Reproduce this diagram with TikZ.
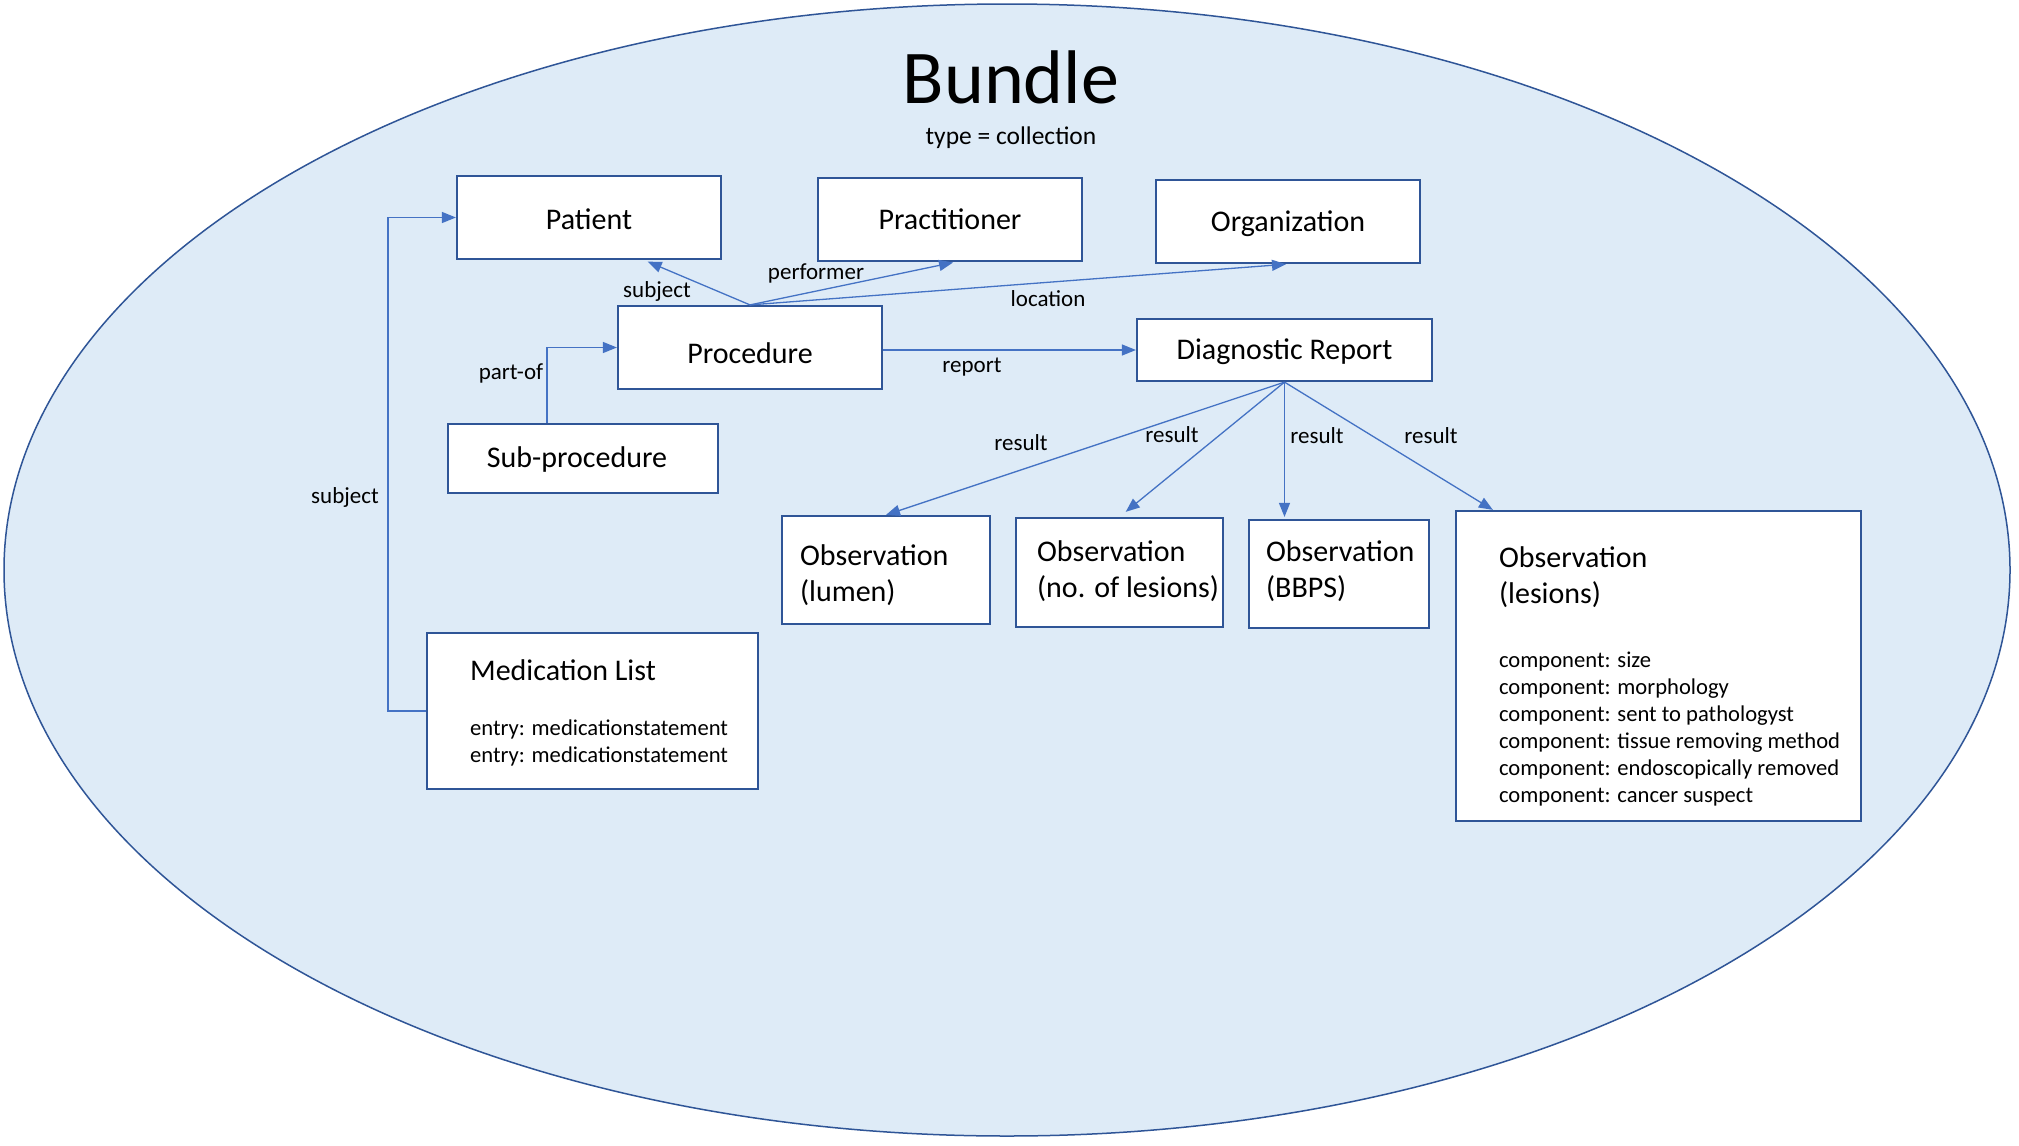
\documentclass[tikz,border=0pt]{standalone}
\usepackage{fontspec}
\setmainfont{Carlito}
\usetikzlibrary{arrows.meta,calc}
\definecolor{bfill}{RGB}{222,235,247}
\definecolor{bline}{RGB}{47,85,151}
\definecolor{aline}{RGB}{68,114,196}
\newcommand\blat[2]{\raisebox{-#1}[0pt][0pt]{#2}}
\begin{document}
\begin{tikzpicture}[x=1pt,y=-1pt,
  box/.style={draw=bline, line width=2.2pt, fill=white, rectangle, inner sep=0pt, font=\fontsize{30}{36}\selectfont},
  conn/.style={draw=aline, line width=1.3pt, -{Triangle[length=14pt,width=11pt]}},
  lbl/.style={font=\fontsize{23}{28}\selectfont, inner sep=0pt},
  big/.style={font=\fontsize{30}{36}\selectfont, inner sep=0pt, anchor=north west, align=left},
  small/.style={font=\fontsize{22.6}{27}\selectfont, inner sep=0pt, anchor=north west, align=left}]
\useasboundingbox (0,0) rectangle (2019,1146);
\fill[white] (0,0) rectangle (2019,1146);
\draw[draw=bline, fill=bfill, line width=1.5pt] (1007,570) ellipse [x radius=1003, y radius=566];

\node[font=\fontsize{76}{90}\selectfont, inner sep=0pt] (title) at (1011,77) {Bundle};
\node[font=\fontsize{25.5}{30}\selectfont, inner sep=0pt] (type) at (1011,138) {type = collection};

\node[box, minimum width=264pt, minimum height=83pt] (patient) at (589,217.5) {\blat{12pt}{Patient}};
\node[box, minimum width=264pt, minimum height=83pt] (practitioner) at (950,219.5) {Practitioner};
\node[box, minimum width=264pt, minimum height=83pt] (organization) at (1288,221.5) {\blat{9.7pt}{Organization}};
\node[box, minimum width=264pt, minimum height=83pt] (procedure) at (750,347.5) {\blat{15.5pt}{Procedure}};
\node[box, minimum width=295pt, minimum height=62pt] (diag) at (1284.5,350) {\blat{9.7pt}{Diagnostic Report}};
\node[box, minimum width=270pt, minimum height=69pt] (sub) at (583,458.5) {\hspace*{-12pt}\blat{8.8pt}{Sub-procedure}};
\node[box, minimum width=331pt, minimum height=156pt] (medlist) at (592.5,711) {};
\node[box, minimum width=208pt, minimum height=108pt] (lumen) at (886,570) {};
\node[box, minimum width=207pt, minimum height=109pt] (nol) at (1119.5,572.5) {};
\node[box, minimum width=180pt, minimum height=108pt] (bbps) at (1339,574) {};
\node[box, minimum width=405pt, minimum height=310pt] (lesions) at (1658.5,666) {};

\node[big] (medT) at ($(medlist.north west)+(44,27.5)$) {Medication List};
\node[small] (medE) at ($(medlist.north west)+(44,88)$) {entry: medicationstatement\\entry: medicationstatement};
\node[big] (lumenT) at ($(lumen.north west)+(19,30)$) {Observation\\(lumen)};
\node[big] (nolT) at ($(nol.north west)+(22,24)$) {Observation\\(no. of lesions)};
\node[big] (bbpsT) at ($(bbps.north west)+(18,22)$) {Observation\\(BBPS)};
\node[big] (lesT) at ($(lesions.north west)+(44,36.5)$) {Observation\\(lesions)};
\node[small] (lesC) at ($(lesions.north west)+(44,141.5)$) {component: size\\component: morphology\\component: sent to pathologyst\\component: tissue removing method\\component: endoscopically removed\\component: cancer suspect};

\draw[conn, shorten >=4pt] (procedure.north) -- ($(patient.south)+(55,0)$);
\draw[conn, shorten >=2pt] (procedure.north) -- ($(practitioner.south)+(5,0)$);
\draw[conn, shorten >=2pt] (procedure.north) -- (organization.south);
\draw[conn] (procedure.east |- diag.west) -- (diag.west);
\draw[conn] ($(sub.north)+(-36,0)$) |- (procedure.west);
\draw[conn] (medlist.west) -- ++(-38,0) |- (patient.west);
\draw[conn] (diag.south) -- (lumen.north);
\draw[conn, shorten >=8pt] (diag.south) -- (nol.north);
\draw[conn, shorten >=2pt] (diag.south) -- (diag.south |- bbps.north);
\draw[conn] (diag.south) -- ($(lesions.north west)+(38,0)$);

\node[lbl] (l1) at (657,291) {subject};
\node[lbl] (l2) at (816,273) {performer};
\node[lbl] (l3) at (1048,299) {location};
\node[lbl] (l4) at (972,367) {report};
\node[lbl] (l5) at (511,373) {part-of};
\node[lbl] (l6) at (345,497) {subject};
\node[lbl] (r1) at (1021,443) {result};
\node[lbl] (r2) at (1172,435) {result};
\node[lbl] (r3) at (1317,436) {result};
\node[lbl] (r4) at (1431,436) {result};
\end{tikzpicture}
\end{document}
